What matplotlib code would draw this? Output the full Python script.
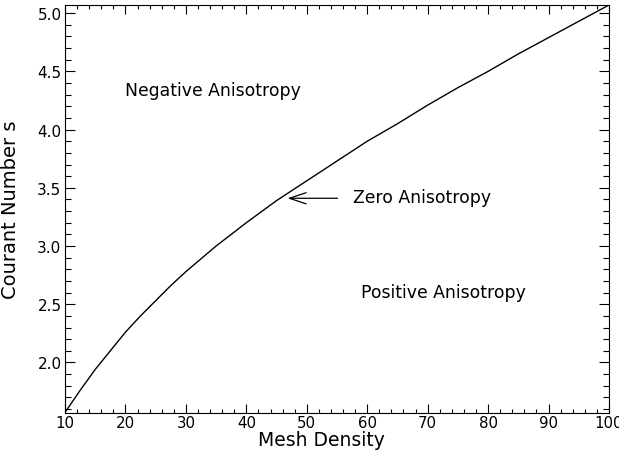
import matplotlib
matplotlib.use("Agg")
import matplotlib.pyplot as plt
from matplotlib.ticker import MultipleLocator, FormatStrFormatter

# Stability boundary: Courant number vs. mesh density
mesh_density = [10, 12.5, 15, 17.5, 20, 22.5, 25, 27.5, 30, 35, 40, 45, 50, 55,
                60, 65, 70, 75, 80, 85, 90, 95, 100]
courant_s = [1.57, 1.76, 1.94, 2.10, 2.26, 2.40, 2.53, 2.66, 2.78, 3.00, 3.20,
             3.39, 3.56, 3.73, 3.90, 4.05, 4.21, 4.36, 4.50, 4.65, 4.79, 4.93, 5.07]

x_ticks = [10, 20, 30, 40, 50, 60, 70, 80, 90, 100]
y_ticks = [2.0, 2.5, 3.0, 3.5, 4.0, 4.5, 5.0]

plt.rcParams['font.family'] = ['DejaVu Sans']

fig = plt.figure(figsize=(6.19, 4.56), dpi=100)
ax = fig.add_axes([65 / 619, 1 - 413.5 / 456, 544 / 619, 407.5 / 456])

ax.plot(mesh_density, courant_s, color='black', linewidth=1.0)

ax.set_xlim(min(mesh_density), max(mesh_density))
ax.set_ylim(min(courant_s), max(courant_s))

ax.set_xticks(x_ticks)
ax.set_yticks(y_ticks)
ax.xaxis.set_minor_locator(MultipleLocator(2))
ax.yaxis.set_minor_locator(MultipleLocator(0.1))
ax.yaxis.set_major_formatter(FormatStrFormatter('%.1f'))

ax.tick_params(which='both', direction='in', top=True, right=True,
               width=0.8, colors='black')
ax.tick_params(axis='x', which='major', length=6.5, pad=1.5, labelsize=10.8)
ax.tick_params(axis='x', which='minor', length=3.2)
ax.tick_params(axis='y', which='major', length=7, pad=2.5, labelsize=11)
ax.tick_params(axis='y', which='minor', length=4.5)
ax.tick_params(axis='x', which='major', labeltop=False)
ax.tick_params(axis='y', which='major', labelright=False)

for side in ax.spines.values():
    side.set_linewidth(0.8)
    side.set_color('black')

ax.set_xlabel('Mesh Density', fontsize=13.5)
ax.set_ylabel('Courant Number s', fontsize=14)
ax.xaxis.set_label_coords(0.472, -0.043)
ax.yaxis.set_label_coords(-0.082, 0.5)

ax.text(20, 4.3, 'Negative Anisotropy', fontsize=12.4, ha='left', va='baseline')
ax.text(59, 2.56, 'Positive Anisotropy', fontsize=12.4, ha='left', va='baseline')
ax.text(57.6, 3.38, 'Zero Anisotropy', fontsize=12.4, ha='left', va='baseline')
ax.annotate('', xy=(46.8, 3.41), xytext=(55.1, 3.41),
            arrowprops=dict(arrowstyle='->,head_length=0.6,head_width=0.2',
                            mutation_scale=20, color='black', linewidth=0.9,
                            shrinkA=0, shrinkB=0))

fig.savefig('out.png', dpi=100, facecolor='white')
